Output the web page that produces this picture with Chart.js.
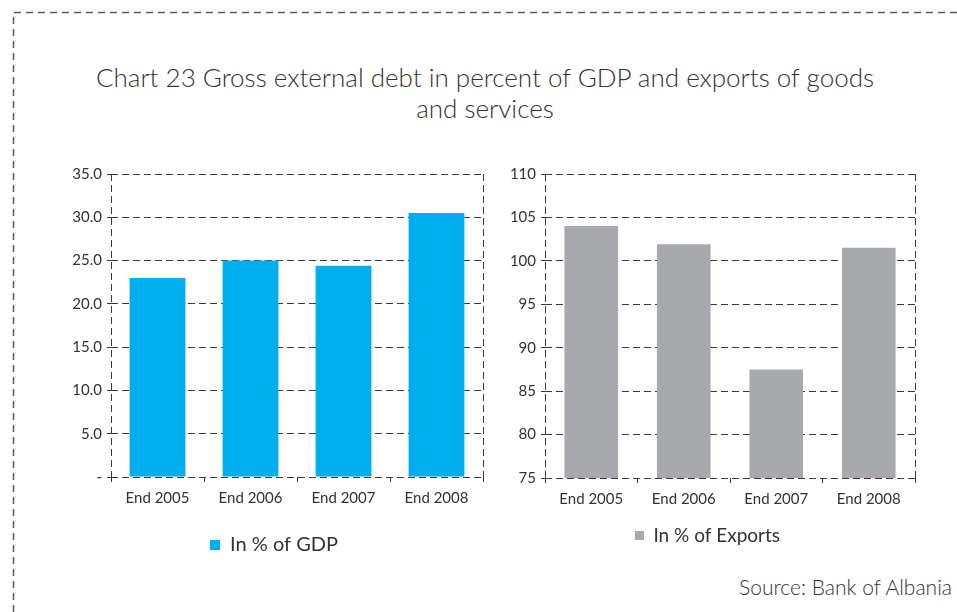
<!DOCTYPE html>
<html>
<head>
<meta charset="utf-8">
<title>Gross external debt</title>
<script src="https://cdn.jsdelivr.net/npm/chart.js@4.4.0/dist/chart.umd.min.js"></script>
<style>
  html, body { margin: 0; padding: 0; background: #fff; }
  body { width: 957px; height: 612px; position: relative; overflow: hidden; font-family: Lato, "DejaVu Sans", sans-serif; color: #333; }
  #frame { position: absolute; left: 0; top: 0; }
  #title { position: absolute; left: 85px; width: 800px; top: 62px; text-align: center; font-size: 26px; font-weight: 300; line-height: 31px; }
  #source { position: absolute; right: 5px; top: 574px; font-size: 21px; font-weight: 300; }
  .box { position: absolute; }
</style>
</head>
<body>
<svg id="frame" width="957" height="612">
  <path d="M13.5 612 V12.5 H957" fill="none" stroke="#5a5a5a" stroke-width="1.5" stroke-dasharray="7 5"/>
</svg>
<div id="title">Chart 23 Gross external debt in percent of GDP and exports of goods<br>and services</div>
<div class="box" style="left:40px; top:150px; width:491px; height:419px;"><canvas id="gdpChart"></canvas></div>
<div class="box" style="left:500px; top:150px; width:419px; height:409px;"><canvas id="exportsChart"></canvas></div>
<div id="source">Source: Bank of Albania</div>

<script>
  const years = ['End 2005', 'End 2006', 'End 2007', 'End 2008'];
  const gdpShare = [23.0, 25.0, 24.4, 30.5];
  const exportsShare = [104.0, 101.9, 87.5, 101.5];
  const gdpTicks = ['-', '5.0', '10.0', '15.0', '20.0', '25.0', '30.0', '35.0'];
  const exportsTicks = ['75', '80', '85', '90', '95', '100', '105', '110'];

  const textColor = '#333333';
  const gridColor = '#3a3a3a';
  const fontFamily = 'Lato, "DejaVu Sans", sans-serif';

  Chart.defaults.font.family = fontFamily;
  Chart.defaults.color = textColor;

  function makeChart(id, o) {
    return new Chart(document.getElementById(id), {
      type: 'bar',
      data: {
        labels: years,
        datasets: [{
          label: o.label,
          data: o.values,
          backgroundColor: o.color,
          borderWidth: 0,
          barPercentage: o.barPct,
          categoryPercentage: 1
        }]
      },
      options: {
        responsive: true,
        maintainAspectRatio: false,
        animation: false,
        layout: { padding: { top: 24, right: o.padRight, left: o.padLeft, bottom: 4 } },
        plugins: {
          tooltip: { enabled: false },
          legend: {
            position: 'bottom',
            labels: {
              boxWidth: o.box, boxHeight: o.box,
              padding: 15,
              color: textColor,
              font: { size: o.legendSize }
            }
          }
        },
        scales: {
          x: {
            grid: {
              // only the outer edges of the plot get a vertical line
              color: c => (c.type === 'tick' && c.index > 0) ? 'rgba(0,0,0,0)' : gridColor,
              tickColor: gridColor,
              tickLength: 5,
              tickBorderDash: []
            },
            border: { display: false, dash: [7, 4] },
            ticks: { padding: 7, font: { size: 15 }, color: textColor },
            afterFit: s => { s.height = o.xHeight; }
          },
          y: {
            min: o.min, max: o.max,
            grid: { color: gridColor, tickColor: gridColor, tickLength: 4, tickBorderDash: [] },
            border: { display: false, dash: [7, 4] },
            ticks: {
              stepSize: 5,
              padding: 5,
              font: { size: 15 },
              color: textColor,
              callback: (v, i) => o.tickLabels[i]
            },
            afterFit: s => { s.width = o.yWidth; }
          }
        }
      }
    });
  }

  makeChart('gdpChart', {
    label: 'In % of GDP', values: gdpShare, color: '#00AEEF',
    min: 0, max: 35, tickLabels: gdpTicks,
    padLeft: 25, yWidth: 46, padRight: 48, xHeight: 43, barPct: 0.6, box: 10, legendSize: 20
  });

  makeChart('exportsChart', {
    label: 'In % of Exports', values: exportsShare, color: '#A7A9AC',
    min: 75, max: 110, tickLabels: exportsTicks,
    padLeft: 0, yWidth: 45, padRight: 4, xHeight: 33, barPct: 0.58, box: 9, legendSize: 19
  });
</script>
</body>
</html>
